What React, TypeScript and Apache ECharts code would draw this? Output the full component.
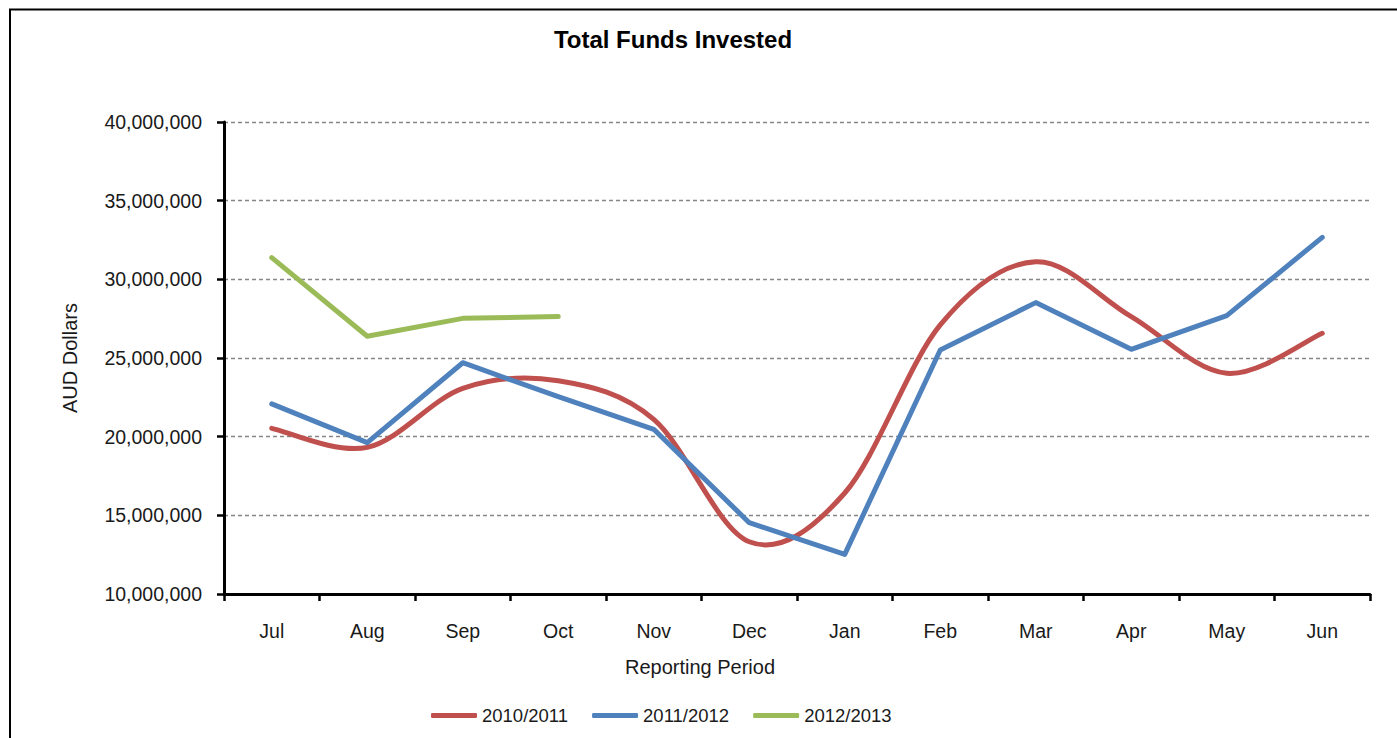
import React, { useEffect, useRef } from "react";
import * as echarts from "echarts";

const categories = ["Jul", "Aug", "Sep", "Oct", "Nov", "Dec", "Jan", "Feb", "Mar", "Apr", "May", "Jun"];
const fy2010 = [20530000, 19320000, 23070000, 23550000, 21100000, 13320000, 16420000, 27100000, 31120000, 27630000, 24030000, 26570000];
const fy2011 = [22080000, 19620000, 24700000, 22540000, 20470000, 14530000, 12520000, 25510000, 28520000, 25550000, 27690000, 32670000];
const fy2012 = [31380000, 26380000, 27520000, 27630000, null, null, null, null, null, null, null, null];
const seriesNames = ["2010/2011", "2011/2012", "2012/2013"];
const colors = ["#C0504D", "#4F81BD", "#9BBB59"];

const FONT = "'Liberation Sans', Arial, sans-serif";
const LINE_W = 5;

function fmt(v: number): string {
  return String(v).replace(/\B(?=(\d{3})+(?!\d))/g, ",");
}

// Catmull-Rom style smoothing (like spreadsheet "smoothed line"), through axis coordinates
function smoothPath(pts: number[][]): string {
  if (pts.length < 2) return "";
  let d = `M${pts[0][0]},${pts[0][1]}`;
  for (let i = 0; i < pts.length - 1; i++) {
    const p0 = pts[i - 1] || pts[i];
    const p1 = pts[i];
    const p2 = pts[i + 1];
    const p3 = pts[i + 2] || pts[i + 1];
    const c1x = p1[0] + (p2[0] - p0[0]) / 6;
    const c1y = p1[1] + (p2[1] - p0[1]) / 6;
    const c2x = p2[0] - (p3[0] - p1[0]) / 6;
    const c2y = p2[1] - (p3[1] - p1[1]) / 6;
    d += ` C${c1x},${c1y} ${c2x},${c2y} ${p2[0]},${p2[1]}`;
  }
  return d;
}

export default function App() {
  const ref = useRef<HTMLDivElement>(null);
  useEffect(() => {
    if (!ref.current) return;
    const chart = echarts.init(ref.current, null, { renderer: "svg" });
    const mk = (name: string, data: (number | null)[], color: string) => ({
      name,
      type: "line",
      data,
      symbol: "none",
      showSymbol: false,
      connectNulls: false,
      lineStyle: { color, width: LINE_W, cap: "round", join: "round" },
      itemStyle: { color },
    });
    const smoothSeries = {
      name: seriesNames[0],
      type: "custom",
      data: fy2010.map((v, i) => [i, v]),
      encode: { x: 0, y: 1 },
      clip: false,
      itemStyle: { color: colors[0] },
      renderItem: (params: any, api: any) => {
        if (params.dataIndex !== 0) return null;
        const pts = fy2010.map((v, i) => api.coord([i, v]));
        return {
          type: "path",
          shape: { pathData: smoothPath(pts) },
          style: { fill: "none", stroke: colors[0], lineWidth: LINE_W, lineCap: "round", lineJoin: "round" },
          silent: true,
        };
      },
    };
    chart.setOption({
      animation: false,
      backgroundColor: "#ffffff",
      textStyle: { fontFamily: FONT },
      grid: { left: 224, right: 27, top: 122, bottom: 144, containLabel: false },
      graphic: [
        {
          type: "rect",
          shape: { x: 10, y: 9.5, width: 1400, height: 740 },
          style: { fill: "none", stroke: "#000", lineWidth: 2 },
          silent: true,
          z: -1,
        },
        {
          type: "text",
          x: 673,
          y: 39,
          style: {
            text: "Total Funds Invested",
            textAlign: "center",
            textVerticalAlign: "middle",
            font: `bold 24px ${FONT}`,
            fill: "#000",
          },
        },
      ],
      legend: {
        left: 426,
        top: 701,
        itemWidth: 46,
        itemHeight: 5,
        itemGap: 24,
        icon: "roundRect",
        textStyle: { fontFamily: FONT, fontSize: 18.5, color: "#1a1a1a" },
        data: seriesNames.map((n, i) => ({ name: n, itemStyle: { color: colors[i] } })),
      },
      xAxis: {
        type: "category",
        data: categories,
        boundaryGap: true,
        name: "Reporting Period",
        nameLocation: "middle",
        nameGap: 63,
        nameTextStyle: { fontFamily: FONT, fontSize: 20, color: "#1a1a1a", padding: [0, 194, 0, 0] },
        axisLine: { lineStyle: { color: "#000", width: 3 } },
        axisTick: { show: true, length: 7, lineStyle: { color: "#000", width: 2.5 } },
        axisLabel: { margin: 27, fontFamily: FONT, fontSize: 19.5, color: "#1a1a1a" },
        splitLine: { show: false },
      },
      yAxis: {
        type: "value",
        min: 10000000,
        max: 40000000,
        interval: 5000000,
        name: "AUD Dollars",
        nameLocation: "middle",
        nameRotate: 90,
        nameGap: 144,
        nameTextStyle: { fontFamily: FONT, fontSize: 20, color: "#1a1a1a" },
        axisLine: { show: true, lineStyle: { color: "#000", width: 3 } },
        axisTick: { show: true, length: 7, lineStyle: { color: "#000", width: 2.5 } },
        axisLabel: { margin: 22, fontFamily: FONT, fontSize: 19.5, color: "#1a1a1a", formatter: (v: number) => fmt(v) },
        splitLine: { show: true, lineStyle: { color: "#868686", width: 1.3, type: [4, 3] } },
      },
      series: [
        smoothSeries,
        mk(seriesNames[1], fy2011, colors[1]),
        mk(seriesNames[2], fy2012, colors[2]),
      ],
    });
    return () => chart.dispose();
  }, []);
  return (
    <div
      ref={ref}
      style={{ position: "fixed", left: 0, top: 0, width: 1397, height: 738, background: "#fff" }}
    />
  );
}
